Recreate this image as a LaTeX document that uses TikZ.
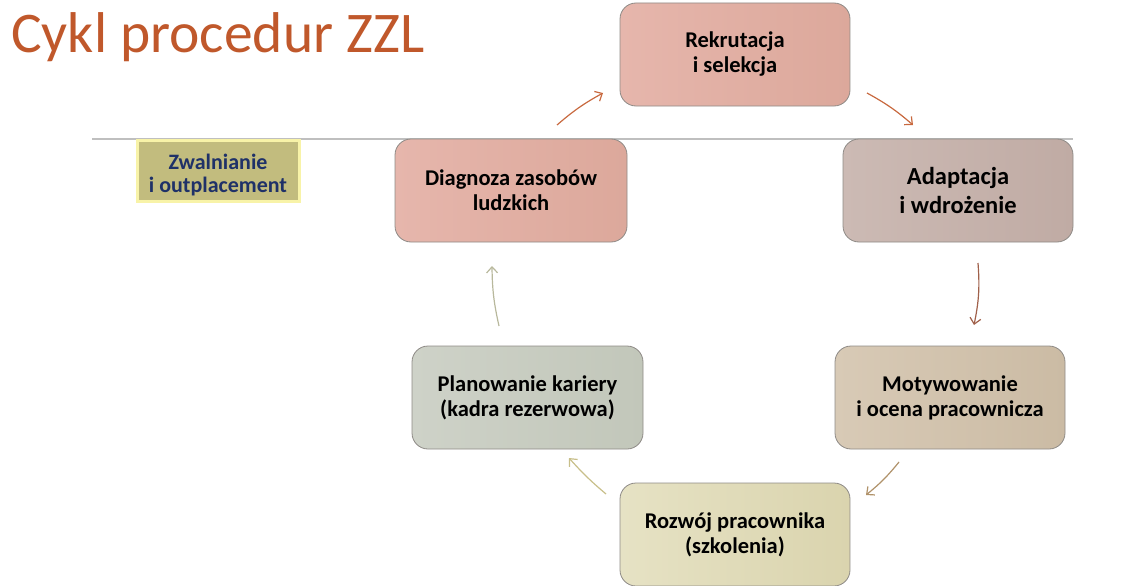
\documentclass[tikz,border=0pt]{standalone}
\usepackage{fontspec}
\setmainfont{Carlito}
\usetikzlibrary{arrows.meta,shadows}
\definecolor{titlec}{HTML}{C0582B}
\definecolor{navy}{HTML}{1F3168}
\definecolor{olivebox}{HTML}{C2BC7E}
\definecolor{glow}{HTML}{F8F3A8}
\definecolor{rule}{HTML}{BFBFBF}
\definecolor{edge}{HTML}{8E8A86}
\definecolor{pinkA}{HTML}{E6B6AC}
\definecolor{pinkB}{HTML}{DCA89B}
\definecolor{mauveA}{HTML}{CCBAB4}
\definecolor{mauveB}{HTML}{C0ABA4}
\definecolor{tanA}{HTML}{D8CAB6}
\definecolor{tanB}{HTML}{CBBBA4}
\definecolor{creamA}{HTML}{E6E2C4}
\definecolor{creamB}{HTML}{DAD4AE}
\definecolor{sageA}{HTML}{CED2C8}
\definecolor{sageB}{HTML}{C2C7BA}
\definecolor{arrRust}{HTML}{C8693F}
\definecolor{arrBrown}{HTML}{A0604A}
\definecolor{arrTan}{HTML}{B0926A}
\definecolor{arrKhaki}{HTML}{C8BF8A}
\definecolor{arrSage}{HTML}{B8B89C}
\tikzset{
  stagebox/.style={draw=edge, line width=0.8pt, rounded corners=16pt,
    minimum width=230pt, minimum height=103pt, align=center,
    font=\bfseries\fontsize{22.5}{25}\selectfont, text=black},
  cyclearrow/.style={line width=1.2pt, -{Straight Barb[length=6pt,width=11pt]}},
}
\begin{document}
\begin{tikzpicture}[x=1pt,y=1pt]
\useasboundingbox (0,0) rectangle (1133,-586);

% title and rule
\node[anchor=base west, inner sep=0pt, text=titlec, font=\fontsize{57.5}{64}\selectfont] (title) at (11,-53) {Cykl procedur ZZL};
\draw[rule, line width=1.2pt] (92,-139) coordinate (ruleL) -- (1073,-139) coordinate (ruleR);

% stages of the cycle
\node[stagebox, left color=pinkA, right color=pinkB] (rek) at (735,-54.5) {Rekrutacja\\i selekcja};
\node[stagebox, minimum width=232pt, left color=pinkA, right color=pinkB] (dia) at (511,-190.5) {Diagnoza zasobów\\ludzkich};
\node[stagebox, left color=mauveA, right color=mauveB, font=\bfseries\fontsize{24.5}{29}\selectfont] (ada) at (958,-190.5) {Adaptacja\\ i wdrożenie};
\node[stagebox, left color=tanA, right color=tanB] (mot) at (950,-397.5) {Motywowanie\\i ocena pracownicza};
\node[stagebox, left color=creamA, right color=creamB] (roz) at (735,-534.5) {Rozwój pracownika\\(szkolenia)};
\node[stagebox, minimum width=231pt, left color=sageA, right color=sageB] (pla) at (527.5,-397.5) {Planowanie kariery\\(kadra rezerwowa)};

% side label: glowing box with its text set a little low
\node[fill=olivebox, draw=glow, line width=3pt, minimum width=162pt, minimum height=61pt,
  drop shadow={shadow xshift=2pt, shadow yshift=-2pt, opacity=0.25}] (zwabox) at (218,-170.5) {};
\node[align=center, text=navy, font=\bfseries\fontsize{22}{23}\selectfont] (zwa)
  at ([yshift=-5pt]zwabox.center) {Zwalnianie\\i outplacement};

% arrow end points between the stages
\coordinate (a1s) at (557,-125); \coordinate (a1e) at (603,-93);
\coordinate (a2s) at (867,-93);  \coordinate (a2e) at (913,-125);
\coordinate (a3s) at (978,-263); \coordinate (a3e) at (974,-325);
\coordinate (a4s) at (899,-462); \coordinate (a4e) at (866,-495);
\coordinate (a5s) at (606,-494); \coordinate (a5e) at (569,-458);
\coordinate (a6s) at (499,-326); \coordinate (a6e) at (492,-266);

\draw[cyclearrow, arrRust]  (a1s) to[bend left=6] (a1e);
\draw[cyclearrow, arrRust]  (a2s) to[bend left=6] (a2e);
\draw[cyclearrow, arrBrown] (a3s) to[bend left=8] (a3e);
\draw[cyclearrow, arrTan]   (a4s) to[bend left=6] (a4e);
\draw[cyclearrow, arrKhaki] (a5s) to[bend left=4] (a5e);
\draw[cyclearrow, arrSage]  (a6s) to[bend left=6] (a6e);
\end{tikzpicture}
\end{document}
